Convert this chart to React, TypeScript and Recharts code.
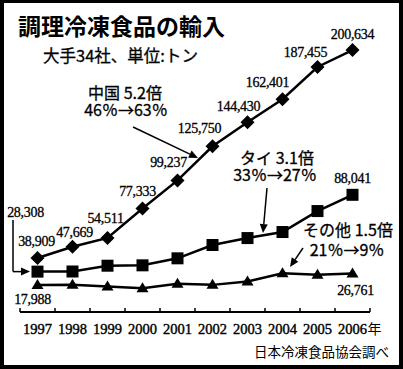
import { LineChart, Line, XAxis, YAxis, ReferenceLine, LabelList } from "recharts";

// 年
const years = [1997, 1998, 1999, 2000, 2001, 2002, 2003, 2004, 2005, 2006];
// 中国
const china = [38909, 47669, 54511, 77333, 99237, 125750, 144430, 162401, 187455, 200634];
// タイ
const thai = [28308, 28400, 32900, 33200, 38650, 49000, 54400, 59100, 75400, 88041];
// その他
const others = [17988, 18000, 16700, 15400, 18800, 18000, 20600, 27000, 25800, 26761];

// 目盛り（年の中央にラベル、境目に目盛り線）
const yearTicks = [1997, 1998, 1999, 2000, 2001, 2002, 2003, 2004, 2005, 2006];
const boundaryTicks = [1996.5, 1997.5, 1998.5, 1999.5, 2000.5, 2001.5, 2002.5, 2003.5, 2004.5, 2005.5, 2006.5];

// 数値ラベルの位置ずれ（null は表示しない）
const chinaLabelPos = [[-1, -12], [2, -10], [-2, -15], [-5, -13], [-9, -13], [-13, -13], [-9, -11], [-15, -12], [-12, -10], [0, -11]];
const thaiLabelPos = [[-12, -55], null, null, null, null, null, null, null, null, [0, -12]];
const othersLabelPos = [[-5, 19], null, null, null, null, null, null, null, null, [3, 21]];

// 矢印 [始点, 終点]（データ座標）
const arrows = [
  { from: [1999.73, 140757], to: [2001.586, 116651], head: true },
  { from: [2003.557, 93323], to: [2003.443, 58331], head: true },
  { from: [2004.586, 46667], to: [2004.214, 31892], head: true },
  { from: [1996.3, 68440], to: [1996.3, 28308], head: false },
  { from: [1996.3, 28308], to: [1996.786, 28308], head: true },
];

const data = years.map((year, i) => ({ year, china: china[i], thai: thai[i], others: others[i] }));

const SERIF = "'Liberation Serif', 'DejaVu Serif', serif";
const GOTHIC = "'Noto Sans CJK JP', 'Noto Sans', sans-serif";

const Diamond = (props: any) => {
  const { cx, cy } = props;
  if (cx == null || cy == null) return null;
  const r = 7;
  return <polygon points={`${cx},${cy - r} ${cx + r},${cy} ${cx},${cy + r} ${cx - r},${cy}`} fill="#000" />;
};

const Square = (props: any) => {
  const { cx, cy } = props;
  if (cx == null || cy == null) return null;
  return <rect x={cx - 6} y={cy - 6} width={12} height={12} fill="#000" />;
};

const Triangle = (props: any) => {
  const { cx, cy } = props;
  if (cx == null || cy == null) return null;
  return <polygon points={`${cx},${cy - 6} ${cx + 6},${cy + 4} ${cx - 6},${cy + 4}`} fill="#000" />;
};

const makeLabel = (pos: (number[] | null)[]) => (props: any) => {
  const { x, y, value, index } = props;
  const p = pos[index];
  if (!p) return null;
  return (
    <text
      x={x + p[0]}
      y={y + p[1]}
      textAnchor="middle"
      fontFamily={SERIF}
      fontSize={14}
      letterSpacing={-0.3}
      fill="#000"
      stroke="#000"
      strokeWidth={0.3}
    >
      {Number(value).toLocaleString("en-US")}
    </text>
  );
};

const YearTick = (props: any) => {
  const { x, y, payload } = props;
  const v = payload.value;
  if (v % 1 !== 0) {
    return <line x1={x} y1={y} x2={x} y2={y - 4} stroke="#000" strokeWidth={1.5} />;
  }
  return (
    <g>
      <text x={x} y={y + 22} textAnchor="middle" fontFamily={SERIF} fontSize={14.5} fill="#000" stroke="#000" strokeWidth={0.4}>
        {v}
      </text>
      {v === years[years.length - 1] && (
        <text x={x + 15} y={y + 22} textAnchor="start" fontFamily={GOTHIC} fontSize={14} fill="#000">
          年
        </text>
      )}
    </g>
  );
};

const ArrowShape = (head: boolean) => (props: any) => {
  const { x1, y1, x2, y2 } = props;
  const ang = Math.atan2(y2 - y1, x2 - x1);
  const len = 9;
  const half = 4;
  const bx = x2 - len * Math.cos(ang);
  const by = y2 - len * Math.sin(ang);
  const px = -Math.sin(ang) * half;
  const py = Math.cos(ang) * half;
  return (
    <g>
      <line x1={x1} y1={y1} x2={head ? bx : x2} y2={head ? by : y2} stroke="#000" strokeWidth={1.5} />
      {head && <polygon points={`${x2},${y2} ${bx + px},${by + py} ${bx - px},${by - py}`} fill="#000" />}
    </g>
  );
};

export default function App() {
  return (
    <div style={{ position: "absolute", left: 0, top: 0, width: 403, height: 369, background: "#fff", overflow: "hidden" }}>
      <LineChart width={403} height={369} data={data} margin={{ top: 29, right: 33, bottom: 27, left: 20 }}>
        <XAxis
          dataKey="year"
          type="number"
          domain={[1996.5, 2006.5]}
          ticks={[...boundaryTicks, ...yearTicks].sort((a, b) => a - b)}
          interval={0}
          tickSize={0}
          tickMargin={0}
          tickLine={false}
          axisLine={{ stroke: "#000", strokeWidth: 2 }}
          tick={<YearTick />}
          height={30}
        />
        <YAxis hide domain={[-3100, 217000]} />
        {arrows.map((a, i) => (
          <ReferenceLine
            key={i}
            segment={[{ x: a.from[0], y: a.from[1] }, { x: a.to[0], y: a.to[1] }]}
            ifOverflow="visible"
            shape={ArrowShape(a.head)}
          />
        ))}
        <Line type="linear" dataKey="others" stroke="#000" strokeWidth={2.5} dot={<Triangle />} isAnimationActive={false}>
          <LabelList dataKey="others" content={makeLabel(othersLabelPos)} />
        </Line>
        <Line type="linear" dataKey="thai" stroke="#000" strokeWidth={2.5} dot={<Square />} isAnimationActive={false}>
          <LabelList dataKey="thai" content={makeLabel(thaiLabelPos)} />
        </Line>
        <Line type="linear" dataKey="china" stroke="#000" strokeWidth={2.5} dot={<Diamond />} isAnimationActive={false}>
          <LabelList dataKey="china" content={makeLabel(chinaLabelPos)} />
        </Line>
      </LineChart>

      <svg width={403} height={369} style={{ position: "absolute", left: 0, top: 0, pointerEvents: "none" }}>
        <text x={18} y={35} fontFamily={GOTHIC} fontSize={23} fontWeight="bold" fill="#000">
          調理冷凍食品の輸入
        </text>
        <text x={43} y={62} fontFamily={GOTHIC} fontSize={16.5} fill="#000" stroke="#000" strokeWidth={0.3}>
          大手34社、単位:トン
        </text>
        <g fontFamily={GOTHIC} fontSize={16} fill="#000" stroke="#000" strokeWidth={0.3} textAnchor="middle">
          <text x={125} y={99}>中国 5.2倍</text>
          <text x={126} y={116}>46％→63％</text>
          <text x={277} y={164}>タイ 3.1倍</text>
          <text x={275} y={181}>33％→27％</text>
          <text x={348} y={236}>その他 1.5倍</text>
          <text x={347} y={256}>21％→9％</text>
        </g>
        <text x={389} y={357} fontFamily={GOTHIC} fontSize={13.5} textAnchor="end" fill="#000">
          日本冷凍食品協会調べ
        </text>
      </svg>

      <div
        style={{
          position: "absolute",
          left: 0,
          top: 0,
          width: 403,
          height: 369,
          boxSizing: "border-box",
          borderStyle: "solid",
          borderColor: "#000",
          borderWidth: "3px 4px 4px 4px",
          pointerEvents: "none",
        }}
      />
    </div>
  );
}
